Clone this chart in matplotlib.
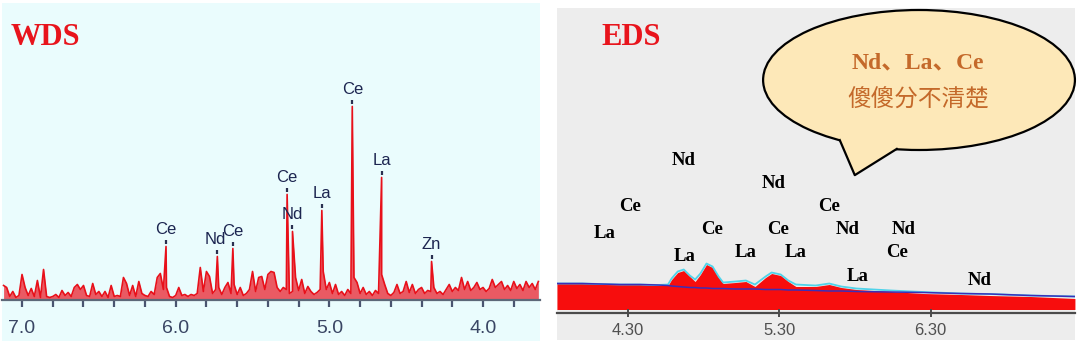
import numpy as np
import matplotlib
matplotlib.use("Agg")
import matplotlib.pyplot as plt
from matplotlib.patches import Rectangle, Ellipse, Polygon
from matplotlib.transforms import offset_copy

# ── WDS spectrum (left) ───────────────────────────────────────────────────────
# background noise, energy grid 7.12 -> 3.64 in 0.02 steps
wds_noise_energy = np.round(np.arange(7.12, 3.63, -0.02), 2)
wds_noise_counts = [
    14, 12, 3, 8, 2, 4, 25, 12, 4, 11,
    3, 19, 2, 30, 3, 2, 3, 5, 2, 9,
    4, 7, 3, 12, 15, 10, 14, 4, 3, 16,
    5, 8, 3, 8, 2, 14, 3, 4, 3, 22,
    16, 4, 14, 3, 18, 6, 4, 3, 8, 5,
    22, 26, 10, 12, 3, 2, 4, 12, 4, 5,
    3, 5, 4, 6, 32, 8, 28, 23, 6, 10,
    12, 5, 12, 17, 6, 15, 5, 12, 4, 6,
    10, 28, 8, 22, 23, 10, 25, 28, 27, 12,
    8, 12, 10, 6, 8, 22, 9, 20, 6, 13,
    8, 5, 7, 10, 28, 10, 17, 6, 15, 5,
    8, 4, 10, 6, 22, 17, 6, 12, 5, 8,
    4, 9, 6, 25, 15, 6, 4, 7, 15, 6,
    8, 18, 7, 15, 6, 10, 12, 6, 9, 8,
    12, 6, 8, 5, 10, 15, 8, 12, 9, 22,
    10, 18, 9, 12, 17, 10, 12, 8, 11, 20,
    12, 15, 18, 10, 14, 9, 18, 11, 15, 9,
    18, 12, 16, 10, 18,
]
wds_peak_energy = [6.063, 5.729, 5.628, 5.275, 5.240, 5.049, 4.851, 4.660, 4.335]
wds_peak_counts = [53, 43, 51, 105, 68, 89, 193, 122, 38]
wds_peak_labels = ["Ce", "Nd", "Ce", "Ce", "Nd", "La", "Ce", "La", "Zn"]
wds_ticks = [7.0, 6.0, 5.0, 4.0]
wds_tick_labels = ["7.0", "6.0", "5.0", "4.0"]

# ── EDS spectrum (right) ──────────────────────────────────────────────────────
eds_energy = [3.833, 4.00, 4.12, 4.25, 4.38, 4.50, 4.566, 4.59, 4.63, 4.67,
              4.71, 4.745, 4.78, 4.82, 4.86, 4.90, 4.93, 5.01, 5.08, 5.14,
              5.21, 5.25, 5.31, 5.36, 5.41, 5.54, 5.63, 5.71, 5.81, 6.04,
              6.25, 6.50, 6.69, 6.96, 7.252]
eds_counts = [27, 26, 26, 25, 25, 24, 24, 30, 37, 39,
              33, 28, 35, 45, 42, 32, 26, 27, 28, 23,
              32, 36, 34, 28, 23, 23, 25, 22, 20, 18,
              16, 15, 14, 13, 11]
eds_fit = [26, 26, 25.5, 25, 25, 24.5, 25, 31, 38, 40,
           34, 30, 36, 46, 43, 33, 27, 28, 29, 25,
           33, 37, 35, 29, 25, 24, 26, 23, 21, 19,
           17.5, 16, 15.5, 14, 13]
eds_bg = [26, 26, 25.5, 25, 25, 24.5, 24, 23.5, 23, 22.5,
          22, 22, 21.5, 21.5, 21, 21, 21, 20.5, 20.5, 20.5,
          20, 20, 20, 19.5, 19.5, 19, 18.5, 18.5, 18, 17.5,
          17, 16, 15.5, 14, 13]
eds_label_text = ["Nd", "Nd", "Ce", "Ce", "La", "Ce", "Ce", "Nd", "Nd",
                  "La", "La", "La", "Ce", "La", "Nd"]
eds_label_energy = [4.668, 5.261, 4.315, 5.629, 4.15, 4.858, 5.29, 5.75, 6.12,
                    4.678, 5.08, 5.407, 6.076, 5.816, 6.625]
eds_label_height = [149.5, 126, 103, 103, 76, 80, 80, 80, 80,
                    53.5, 57, 57, 57, 33.5, 29.5]
eds_ticks = [4.30, 5.30, 6.30]
eds_tick_labels = ["4.30", "5.30", "6.30"]

RED = "#e8141c"

fig = plt.figure(figsize=(10.8, 3.44), dpi=100)
fig.patch.set_facecolor("white")

# panel backgrounds
fig.patches.append(Rectangle((0.0019, 0.0087), 0.498, 0.9826, transform=fig.transFigure,
                             facecolor="#eafcfd", edgecolor="none", zorder=-10))
fig.patches.append(Rectangle((0.5157, 0.0116), 0.4796, 0.965, transform=fig.transFigure,
                             facecolor="#ededed", edgecolor="none", zorder=-10))

# ── left: WDS ─────────────────────────────────────────────────────────────────
ax = fig.add_axes([0.0019, 0.1265, 0.498, 0.865])
ax.set_facecolor("none")
e_all = np.concatenate([wds_noise_energy, wds_peak_energy])
c_all = np.concatenate([wds_noise_counts, wds_peak_counts])
order = np.argsort(e_all)
ax.fill_between(e_all[order], 0, c_all[order], color="#ea1c28", alpha=0.72, lw=0)
ax.plot(e_all[order], c_all[order], color="#e8101a", lw=1.2)

mark_tr = offset_copy(ax.transData, fig=fig, x=0, y=4, units="dots")
ax.scatter(wds_peak_energy, wds_peak_counts, marker="|", s=12, linewidths=1.6,
           color="#2a3050", transform=mark_tr, zorder=3)
for e, c, lab in zip(wds_peak_energy, wds_peak_counts, wds_peak_labels):
    dx = -1.5 if (lab == "Nd" and c < 50) else 0
    ax.annotate(lab, (e, c), xytext=(dx, 12.5), textcoords="offset points",
                ha="center", va="center", fontsize=12, color="#1c2550",
                family="Liberation Sans")

ax.set_xlim(7.13, 3.63)
ax.set_ylim(-1, 296.5)
for s in ["top", "right", "left"]:
    ax.spines[s].set_visible(False)
ax.spines["bottom"].set_color("#5d6878")
ax.spines["bottom"].set_linewidth(1.6)
ax.set_yticks([])
ax.set_xticks(wds_ticks)
ax.set_xticklabels(wds_tick_labels, family="Liberation Sans", fontsize=14, color="#3a4664")
ax.set_xticks(np.arange(7.0, 3.63, -0.2), minor=True)
ax.tick_params(axis="x", which="both", direction="out", length=5, width=1.6,
               color="#4a5570", pad=9)

fig.text(0.0096, 0.892, "WDS", ha="left", va="center", fontsize=22,
         fontweight="bold", family="Liberation Serif", color=RED)

# ── right: EDS ────────────────────────────────────────────────────────────────
bx = fig.add_axes([0.5157, 0.0901, 0.4796, 0.8866])
bx.set_facecolor("none")
bx.fill_between(eds_energy, 0, eds_counts, color="#f70d0d", lw=0)
bx.plot(eds_energy, eds_fit, color="#4fd3ea", lw=1.3)
bx.plot(eds_energy, eds_bg, color="#3a2fb8", lw=1.1)
for e, h, lab in zip(eds_label_energy, eds_label_height, eds_label_text):
    bx.text(e, h, lab, ha="center", va="center", fontsize=13.5, fontweight="bold",
            family="Liberation Serif", color="black")

bx.set_xlim(3.833, 7.252)
bx.set_ylim(-3.5, 301.5)
for s in ["top", "right", "left"]:
    bx.spines[s].set_visible(False)
bx.spines["bottom"].set_color("#4b4b4b")
bx.spines["bottom"].set_linewidth(1.6)
bx.set_yticks([])
bx.set_xticks(eds_ticks)
bx.set_xticklabels(eds_tick_labels, family=["Liberation Sans Narrow", "Liberation Sans"],
                   fontsize=12, color="#505050")
bx.tick_params(axis="x", direction="inout", length=6, width=1.4, color="#4b4b4b", pad=4)

fig.text(0.5565, 0.892, "EDS", ha="left", va="center", fontsize=22,
         fontweight="bold", family="Liberation Serif", color=RED)

# speech bubble
BUBBLE = "#fde8b8"
bx.add_patch(Ellipse((0.699, 0.764), 0.602, 0.459, transform=bx.transAxes,
                     facecolor=BUBBLE, edgecolor="black", lw=1.6, clip_on=False, zorder=4))
tail_fill = [(0.546, 0.567), (0.575, 0.452), (0.656, 0.536), (0.656, 0.56), (0.546, 0.59)]
bx.add_patch(Polygon(tail_fill, closed=True, transform=bx.transAxes, facecolor=BUBBLE,
                     edgecolor="none", clip_on=False, zorder=5))
bx.plot([0.546, 0.575, 0.656], [0.567, 0.452, 0.538], color="black", lw=1.6,
        transform=bx.transAxes, clip_on=False, zorder=6)
bx.text(0.6975, 0.819, "Nd、La、Ce", transform=bx.transAxes, ha="center", va="center",
        fontsize=17, fontweight="bold", color="#c4692a",
        family=["Liberation Serif", "Noto Sans CJK SC"], zorder=7)
bx.text(0.6975, 0.698, "傻傻分不清楚", transform=bx.transAxes, ha="center", va="center",
        fontsize=17, color="#c4692a", family=["Noto Sans CJK SC", "DejaVu Sans"], zorder=7)

fig.savefig("out.png", dpi=100)
